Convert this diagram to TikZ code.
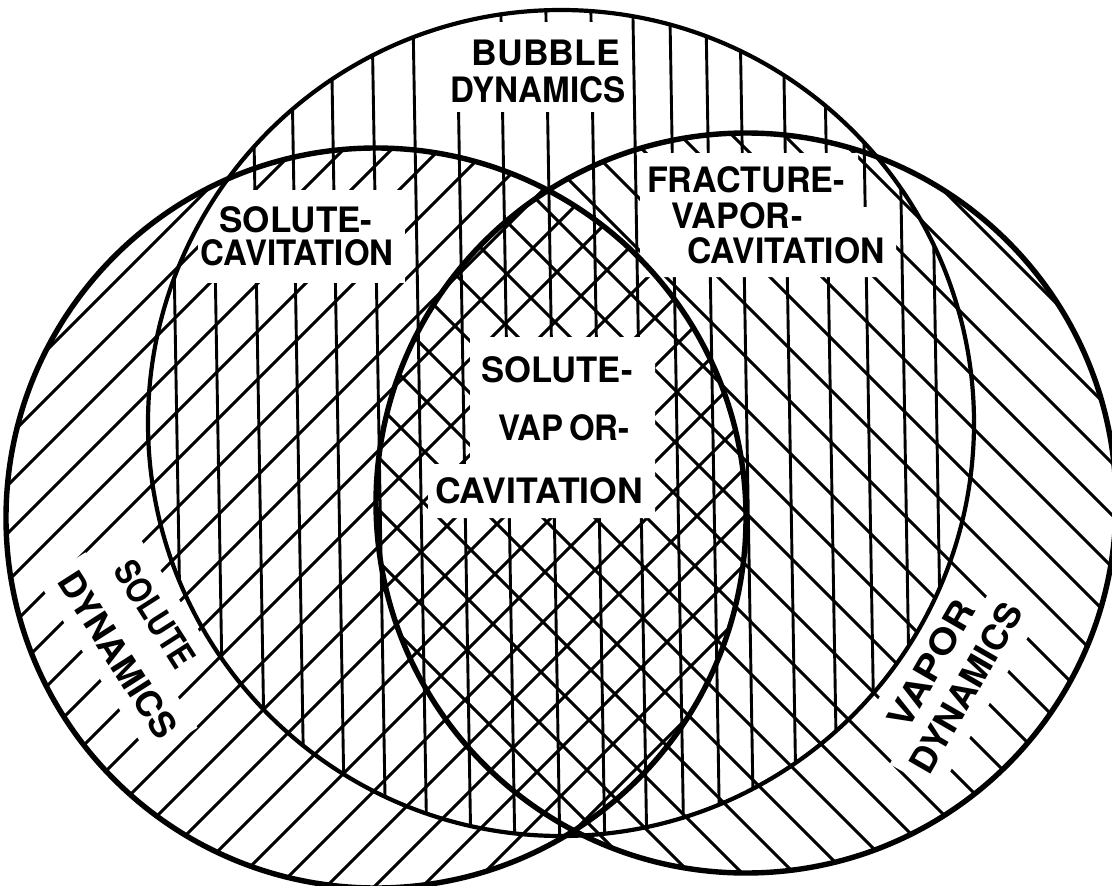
\documentclass[tikz,border=0pt]{standalone}
\usepackage{fontspec}
\usepackage{graphicx}
\newfontfamily\labfont{TeX Gyre Heros}
\newcommand{\lw}[2]{\resizebox{#1pt}{\height}{#2}}
\tikzset{
  hatch/.style={line width=2.9pt},
  outline/.style={line width=5.4pt},
  thinoutline/.style={line width=4.2pt},
  lab/.style={font=\labfont\bfseries\fontsize{35}{40}\selectfont, inner sep=0pt, anchor=base},
  rlab/.style={font=\labfont\bfseries\fontsize{35}{40}\selectfont, inner sep=0pt, anchor=center},
  mask/.style={fill=white, draw=none}
}
\begin{document}
\begin{tikzpicture}[x=1pt,y=-1pt]
\useasboundingbox (0,0) rectangle (1112,886);
\fill[white] (0,0) rectangle (1112,886);
\coordinate (S) at (376,518);
\coordinate (V) at (746,503);
\coordinate (B) at (561,423);

% bubble dynamics: vertical hatching
\begin{scope}
  \clip (B) circle[radius=413];
  \foreach \x in {180,221,262,301,341,382,423,467,511,556,601,643,680,716,750,793,834,872,908,940}
    \draw[hatch] ({\x-10.3},0) -- ({\x+4.5},886);
\end{scope}
% solute dynamics: / hatching
\begin{scope}
  \clip (S) circle[radius=370];
  \foreach \k in {7,...,30} {
    \pgfmathsetmacro\c{48*\k+13}
    \draw[hatch] (\c,0) -- ({\c-950},950);
  }
\end{scope}
% vapor dynamics: \ hatching
\begin{scope}
  \clip (V) circle[radius=370];
  \foreach \k in {-7,...,15} {
    \pgfmathsetmacro\d{52*\k+25}
    \draw[hatch] (\d,0) -- ({\d+950},950);
  }
\end{scope}

% white label areas
\fill[mask] (428,22) rectangle (628,112);
\begin{scope}
  \clip (B) circle[radius=413];
  \fill[mask] (198,190) rectangle (405,283);
\end{scope}
\fill[mask] (640,153) -- (858,153) -- (858,207) -- (896,207) -- (896,277) -- (640,277) -- cycle;
\fill[mask] (470,337) -- (655,337) -- (655,518) -- (428,518) -- (428,464) -- (470,464) -- cycle;
\fill[mask, shift={(155,614)}, rotate=-57.5] (-69,-28) rectangle (69,28);
\fill[mask, shift={(118,655)}, rotate=-57.5] (-104,-28) rectangle (104,28);
\fill[mask, shift={(931,664)}, rotate=60] (-79,-28) rectangle (79,28);
\fill[mask, shift={(966,688)}, rotate=60] (-104,-28) rectangle (104,28);

% circle outlines
\draw[thinoutline] (B) circle[radius=413];
\draw[outline] (S) circle[radius=370];
\draw[outline] (V) circle[radius=370];

% labels
\node[lab] (bd1) at (546,65) {\lw{148}{BUBBLE}};
\node[lab] (bd2) at (538,102) {\lw{175}{DYNAMICS}};
\node[lab] (sc1) at (296,232) {\lw{153}{SOLUTE-}};
\node[lab] (sc2) at (297,265) {\lw{193}{CAVITATION}};
\node[lab] (fv1) at (746,192) {\lw{198}{FRACTURE-}};
\node[lab] (fv2) at (737,228) {\lw{131}{VAPOR-}};
\node[lab] (fv3) at (786,263) {\lw{197}{CAVITATION}};
\node[lab] (sv1) at (557,382) {\lw{151}{SOLUTE-}};
\node[lab] (sv2) at (564,440) {\lw{132}{VAP\,OR-}};
\node[lab] (sv3) at (539,503) {\lw{208}{CAVITATION}};
\node[rlab, rotate=-57.5] (sd1) at (155,614) {\lw{120}{SOLUTE}};
\node[rlab, rotate=-57.5] (sd2) at (118,655) {\lw{190}{DYNAMICS}};
\node[rlab, rotate=60] (vd1) at (931,664) {\lw{140}{VAPOR}};
\node[rlab, rotate=60] (vd2) at (966,688) {\lw{190}{DYNAMICS}};
\end{tikzpicture}
\end{document}
